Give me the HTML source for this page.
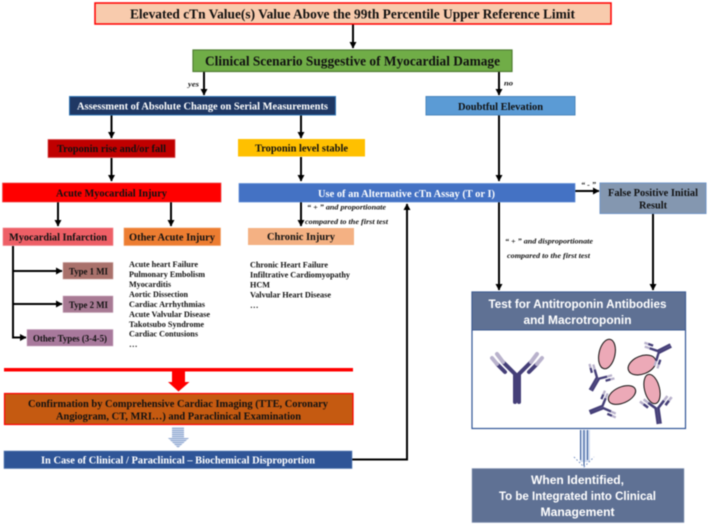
<!DOCTYPE html>
<html><head><meta charset="utf-8"><style>
html,body{margin:0;padding:0;background:#fff;width:709px;height:525px;overflow:hidden}
svg{display:block;filter:blur(0.4px)}
text{font-family:"Liberation Serif",serif;font-weight:bold;fill:#111}
.c{text-anchor:middle}
.w{fill:#fff}
.i{font-style:italic;font-size:7.5px}
.l{font-size:8.5px}
.s{font-family:"Liberation Sans",sans-serif;fill:#fff;font-size:11.5px}
.a{stroke:#000;stroke-width:2;fill:none}
</style></head><body>
<svg width="709" height="525" viewBox="0 0 709 525" xmlns="http://www.w3.org/2000/svg">
<defs>
<marker id="h" markerUnits="userSpaceOnUse" markerWidth="8" markerHeight="8" refX="6" refY="3.5" orient="auto"><path d="M0 0L6.500 3.500L0 7Z" fill="#000"/></marker>
<pattern id="st" width="2" height="2" patternUnits="userSpaceOnUse"><rect width="2" height="1.200" fill="#8ea6d0"/><rect y="1.200" width="2" height=".8" fill="#d3ddef"/></pattern>
<g id="ab">
<path d="M-1.700 20V0L-10 -8M1.700 20V0L10 -8" stroke="#453f78" stroke-width="3.300" fill="none"/>
<path d="M-10 -8L-15 -13M10 -8L15 -13" stroke="#b9b2cc" stroke-width="3.200"/>
<path d="M-11 -2L-16 -7M11 -2L16 -7" stroke="#453f78" stroke-width="3.200"/>
<path d="M-16 -7L-20 -11M16 -7L20 -11" stroke="#b9b2cc" stroke-width="3.200"/>
</g>
</defs>

<!-- connectors -->
<path class="a" d="M353 24V48" marker-end="url(#h)"/>
<path class="a" d="M204 72V95" marker-end="url(#h)"/>
<path class="a" d="M499 72V95" marker-end="url(#h)"/>
<path class="a" d="M111.500 115V138" marker-end="url(#h)"/>
<path class="a" d="M301 115V138" marker-end="url(#h)"/>
<path class="a" d="M111.500 158V181" marker-end="url(#h)"/>
<path class="a" d="M301 157V181" marker-end="url(#h)"/>
<path class="a" d="M499 115V181" marker-end="url(#h)"/>
<path class="a" d="M58 202V226" marker-end="url(#h)"/>
<path class="a" d="M171 202V226" marker-end="url(#h)"/>
<path class="a" d="M301 202V226" marker-end="url(#h)"/>
<path class="a" d="M575 191H599" marker-end="url(#h)"/>
<path class="a" d="M499 202V290" marker-end="url(#h)"/>
<path class="a" d="M653 214V290" marker-end="url(#h)"/>
<path class="a" d="M13 246V337.500H26" marker-end="url(#h)"/>
<path class="a" d="M13 271H62" marker-end="url(#h)"/>
<path class="a" d="M13 304H62" marker-end="url(#h)"/>
<path class="a" d="M352 459.500H407V204" marker-end="url(#h)"/>

<!-- top boxes -->
<rect x="95" y="3" width="516" height="21" fill="#f8cbad" stroke="#ff0000" stroke-width="1.500"/>
<text class="c" x="352.500" y="18.500" font-size="13.500" textLength="445" lengthAdjust="spacingAndGlyphs">Elevated cTn Value(s) Value Above the 99th Percentile Upper Reference Limit</text>
<rect x="193" y="50" width="319" height="21.500" fill="#70ad47" stroke="#507e32" stroke-width="1.200"/>
<text class="c" x="352.500" y="65.500" font-size="13.500" textLength="295" lengthAdjust="spacingAndGlyphs">Clinical Scenario Suggestive of Myocardial Damage</text>
<text class="i" x="188" y="86.500" textLength="11" lengthAdjust="spacingAndGlyphs">yes</text>
<text class="i" x="504" y="85.500" textLength="9" lengthAdjust="spacingAndGlyphs">no</text>

<rect x="69.500" y="96.500" width="266" height="18.500" fill="#1f3864" stroke="#2e75b6" stroke-width="1"/>
<text class="c w" x="202.500" y="109.500" font-size="10" textLength="251" lengthAdjust="spacingAndGlyphs">Assessment of Absolute Change on Serial Measurements</text>
<rect x="426" y="96.500" width="149" height="18.500" fill="#5b9bd5" stroke="#4a86bd" stroke-width="1"/>
<text class="c" x="500.500" y="110" font-size="10" textLength="85" lengthAdjust="spacingAndGlyphs">Doubtful Elevation</text>

<rect x="48" y="139.500" width="127" height="18" fill="#c00000" stroke="#d8484a" stroke-width=".7"/>
<text class="c" x="111.500" y="152" font-size="10" textLength="109" lengthAdjust="spacingAndGlyphs">Troponin rise and/or fall</text>
<rect x="238" y="139" width="127" height="17.500" fill="#ffc000"/>
<text class="c" x="301.500" y="151.500" font-size="10" textLength="93" lengthAdjust="spacingAndGlyphs">Troponin level stable</text>

<rect x="2.500" y="183" width="218.500" height="19" fill="#ff0000" stroke="#e84a4a" stroke-width=".7"/>
<text class="c" x="111.500" y="196.500" font-size="10" textLength="111" lengthAdjust="spacingAndGlyphs">Acute Myocardial Injury</text>
<rect x="239" y="183.500" width="336" height="18.500" fill="#4472c4" stroke="#5b8ad8" stroke-width=".7"/>
<text class="c w" x="406.500" y="197" font-size="10" textLength="177" lengthAdjust="spacingAndGlyphs">Use of an Alternative cTn Assay (T or I)</text>
<rect x="600" y="183" width="106" height="30.500" fill="#8497b0" stroke="#6f94c6" stroke-width="1"/>
<text class="c" x="653" y="196" font-size="10" textLength="90" lengthAdjust="spacingAndGlyphs">False Positive Initial</text>
<text class="c" x="653" y="208.500" font-size="10" textLength="28" lengthAdjust="spacingAndGlyphs">Result</text>
<text class="i c" x="588.500" y="187" textLength="15" lengthAdjust="spacingAndGlyphs">“ - ”</text>

<text class="i" x="307" y="209.500" textLength="79" lengthAdjust="spacingAndGlyphs">“ + ” and proportionate</text>
<text class="i" x="305" y="224" textLength="83" lengthAdjust="spacingAndGlyphs">compared to the first test</text>
<text class="i" x="505" y="243.500" textLength="88" lengthAdjust="spacingAndGlyphs">“ + ” and disproportionate</text>
<text class="i" x="507" y="258" textLength="83" lengthAdjust="spacingAndGlyphs">compared to the first test</text>

<rect x="3" y="228" width="110" height="17.500" fill="#ee5f66" stroke="#f08088" stroke-width=".6"/>
<text class="c" x="58" y="240.500" font-size="10" textLength="98" lengthAdjust="spacingAndGlyphs">Myocardial Infarction</text>
<rect x="124" y="228" width="96.500" height="17.500" fill="#ed7d31" stroke="#f09a60" stroke-width=".6"/>
<text class="c" x="172" y="240.500" font-size="10" textLength="86" lengthAdjust="spacingAndGlyphs">Other Acute Injury</text>
<rect x="248" y="228" width="106" height="17" fill="#f4b183"/>
<text class="c" x="301" y="240" font-size="10" textLength="68" lengthAdjust="spacingAndGlyphs">Chronic Injury</text>

<rect x="63" y="262.500" width="50" height="16.500" fill="#a9716b" stroke="#c79a95" stroke-width=".5"/>
<text class="c" x="88.500" y="274.500" font-size="9" textLength="39" lengthAdjust="spacingAndGlyphs">Type 1 MI</text>
<rect x="63" y="296" width="50" height="16.500" fill="#a87a94" stroke="#c9a6ba" stroke-width=".5"/>
<text class="c" x="88.500" y="308" font-size="9" textLength="39" lengthAdjust="spacingAndGlyphs">Type 2 MI</text>
<rect x="27" y="329.500" width="86" height="16.500" fill="#a8799c" stroke="#c9a6c0" stroke-width=".5"/>
<text class="c" x="70" y="341.500" font-size="9" textLength="74" lengthAdjust="spacingAndGlyphs">Other Types (3-4-5)</text>

<!-- lists -->
<text class="l" x="129" y="267" textLength="69" lengthAdjust="spacingAndGlyphs">Acute heart Failure</text>
<text class="l" x="129" y="277" textLength="76" lengthAdjust="spacingAndGlyphs">Pulmonary Embolism</text>
<text class="l" x="129" y="287" textLength="42" lengthAdjust="spacingAndGlyphs">Myocarditis</text>
<text class="l" x="129" y="297" textLength="59" lengthAdjust="spacingAndGlyphs">Aortic Dissection</text>
<text class="l" x="129" y="307" textLength="76" lengthAdjust="spacingAndGlyphs">Cardiac Arrhythmias</text>
<text class="l" x="129" y="317" textLength="81" lengthAdjust="spacingAndGlyphs">Acute Valvular Disease</text>
<text class="l" x="129" y="327" textLength="75" lengthAdjust="spacingAndGlyphs">Takotsubo Syndrome</text>
<text class="l" x="129" y="336.500" textLength="69" lengthAdjust="spacingAndGlyphs">Cardiac Contusions</text>
<text class="l" x="129" y="347">…</text>
<text class="l" x="250" y="267.500" textLength="78" lengthAdjust="spacingAndGlyphs">Chronic Heart Failure</text>
<text class="l" x="250" y="277.500" textLength="100" lengthAdjust="spacingAndGlyphs">Infiltrative Cardiomyopathy</text>
<text class="l" x="250" y="287.500" textLength="20" lengthAdjust="spacingAndGlyphs">HCM</text>
<text class="l" x="250" y="297.500" textLength="81" lengthAdjust="spacingAndGlyphs">Valvular Heart Disease</text>
<text class="l" x="250" y="308">…</text>

<!-- red bar + arrow -->
<rect x="4" y="368" width="349" height="3.500" fill="#ff0000"/>
<path d="M172 371H185V382H189.500L178.500 391.500L168 382H172Z" fill="#ff0000"/>
<rect x="4.500" y="393.500" width="348.500" height="31" fill="#c55a11" stroke="#ff0000" stroke-width="1.200"/>
<text class="c" x="178" y="407" font-size="10.500" textLength="300" lengthAdjust="spacingAndGlyphs">Confirmation by Comprehensive Cardiac Imaging (TTE, Coronary</text>
<text class="c" x="178.500" y="419.500" font-size="10.500" textLength="245" lengthAdjust="spacingAndGlyphs">Angiogram, CT, MRI…) and Paraclinical Examination</text>
<path d="M172 427H184V438H189L178 448L168 438H172Z" fill="url(#st)"/>
<rect x="4" y="451" width="348" height="17.500" fill="#2f5597" stroke="#5c80b8" stroke-width=".6"/>
<text class="c w" x="178" y="463.500" font-size="10.500" textLength="274" lengthAdjust="spacingAndGlyphs">In Case of Clinical / Paraclinical – Biochemical Disproportion</text>

<!-- Test box -->
<rect x="472" y="292" width="213.500" height="136.500" fill="#fff" stroke="#2f5597" stroke-width="1.200"/>
<rect x="472" y="292" width="213.500" height="38" fill="#5f7194"/>
<rect x="472" y="292" width="213.500" height="38" fill="none" stroke="#3d5a90" stroke-width="1"/>
<text class="c s" x="577.500" y="308" textLength="178" lengthAdjust="spacingAndGlyphs">Test for Antitroponin Antibodies</text>
<text class="c s" x="577.500" y="324" textLength="108" lengthAdjust="spacingAndGlyphs">and Macrotroponin</text>

<!-- antibody art: large Y -->
<path d="M515 402V374L503 362M519 402V374L531 362" stroke="#453f78" stroke-width="4" fill="none" stroke-linecap="round"/>
<path d="M503 362L497 354M531 362L537 354" stroke="#b9b2cc" stroke-width="4" stroke-linecap="round"/>
<path d="M497 364L505 372M537 364L529 372" stroke="#453f78" stroke-width="4" stroke-linecap="round"/>
<path d="M497 364L492 358M537 364L542 358" stroke="#b9b2cc" stroke-width="4" stroke-linecap="round"/>

<g fill="#eca9b7" stroke="#111" stroke-width="1">
<ellipse cx="607" cy="354" rx="8" ry="15" transform="rotate(12 607 354)"/>
<ellipse cx="642" cy="365" rx="14.500" ry="9" transform="rotate(-22 642 365)"/>
<ellipse cx="652" cy="389" rx="7.500" ry="15" transform="rotate(-14 652 389)"/>
<ellipse cx="622" cy="395" rx="14.500" ry="8" transform="rotate(-24 622 395)"/>
</g>
<use href="#ab" transform="translate(598 378) rotate(30) scale(.72)"/>
<use href="#ab" transform="translate(658 352) rotate(-117) scale(.72)"/>
<use href="#ab" transform="translate(603 407) rotate(68) scale(.72)"/>
<use href="#ab" transform="translate(657 408) rotate(-8) scale(.8)"/>

<!-- double arrow -->
<rect x="580" y="430" width="10" height="32" fill="#d3ddef"/>
<path d="M580.500 430V460M584 430V466M587.500 430V460" stroke="#2f5597" stroke-width="1" fill="none"/>
<path d="M574 457L584 467L594 457" stroke="#6f8cc0" stroke-width="1" stroke-dasharray="1.500 2" fill="none"/>

<rect x="472" y="468.500" width="212" height="54" fill="#5f7194" stroke="#8fa0bc" stroke-width=".5"/>
<text class="c s" x="577.500" y="484" textLength="93" lengthAdjust="spacingAndGlyphs">When Identified,</text>
<text class="c s" x="577.500" y="500" textLength="157" lengthAdjust="spacingAndGlyphs">To be Integrated into Clinical</text>
<text class="c s" x="577.500" y="516" textLength="74" lengthAdjust="spacingAndGlyphs">Management</text>
</svg>
</body></html>
